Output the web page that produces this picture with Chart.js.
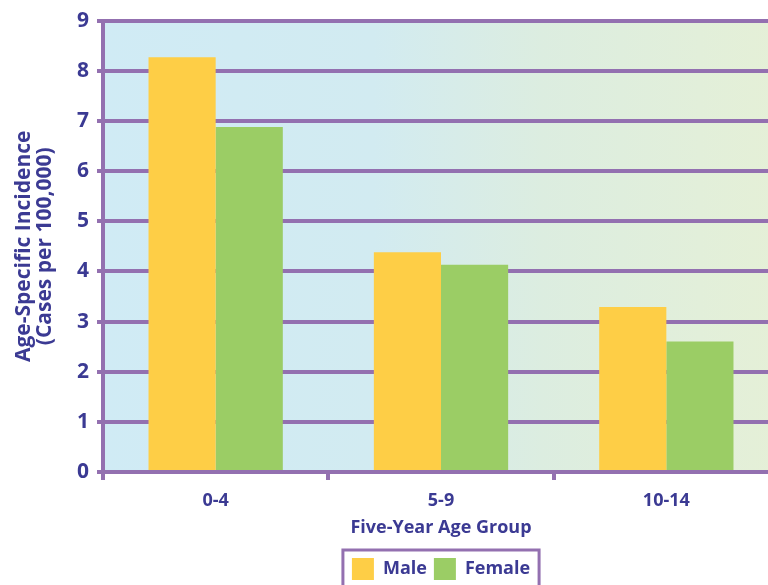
<!DOCTYPE html>
<html lang="en">
<head>
    <meta charset="UTF-8">
    <title>Age-Specific Incidence</title>
    <script src="https://cdn.jsdelivr.net/npm/chart.js"></script>
    <style>
        html, body {
            margin: 0;
            padding: 0;
            background: #fff;
            overflow: hidden;
        }
        .chart-container {
            width: 780px;
            height: 590px;
        }
    </style>
</head>
<body>
    <div class="chart-container">
        <canvas id="grafico"></canvas>
    </div>

    <script>
        const categories = ['0-4', '5-9', '10-14'];
        const maleValues = [8.27, 4.38, 3.29];
        const femaleValues = [6.88, 4.13, 2.60];
        const yTitleLines = ['Age-Specific Incidence', '(Cases per 100,000)'];

        const purple = '#9370B0';
        const textColor = '#3B3A93';
        const fontFamily = "'Open Sans', 'DejaVu Sans', sans-serif";

        // background gradient behind the plot area
        const fondo = {
            id: 'fondo',
            beforeDraw(chart) {
                const { ctx, chartArea: a } = chart;
                const g = ctx.createLinearGradient(a.left, 0, a.right, 0);
                g.addColorStop(0, '#D0EBF5');
                g.addColorStop(0.4, '#D2EBF1');
                g.addColorStop(0.65, '#DCEDE0');
                g.addColorStop(1, '#E5F0D7');
                ctx.save();
                ctx.fillStyle = g;
                ctx.fillRect(a.left, a.top, a.right - a.left, a.bottom - a.top);
                ctx.restore();
            }
        };

        // frame round the legend
        const marcoLeyenda = {
            id: 'marcoLeyenda',
            afterDraw(chart) {
                const boxes = chart.legend.legendHitBoxes;
                if (!boxes || !boxes.length) return;
                const left = Math.min(...boxes.map(b => b.left)) - 9;
                const right = Math.max(...boxes.map(b => b.left + b.width)) + 9;
                const top = Math.min(...boxes.map(b => b.top)) - 8;
                const ctx = chart.ctx;
                ctx.save();
                ctx.strokeStyle = purple;
                ctx.lineWidth = 3;
                ctx.strokeRect(left, top, right - left, 60);
                ctx.restore();
            }
        };

        const ctx = document.getElementById('grafico').getContext('2d');
        const chart = new Chart(ctx, {
            type: 'bar',
            data: {
                labels: categories,
                datasets: [{
                    label: 'Male',
                    data: maleValues,
                    backgroundColor: '#FECE46',
                    borderWidth: 0,
                    barPercentage: 1,
                    categoryPercentage: 0.596
                }, {
                    label: 'Female',
                    data: femaleValues,
                    backgroundColor: '#9BCD65',
                    borderWidth: 0,
                    barPercentage: 1,
                    categoryPercentage: 0.596
                }]
            },
            options: {
                responsive: true,
                maintainAspectRatio: false,
                animation: false,
                layout: {
                    padding: { top: 18, right: 1, left: 0, bottom: 0 }
                },
                plugins: {
                    legend: {
                        position: 'bottom',
                        fullSize: false,
                        labels: {
                            boxWidth: 22,
                            boxHeight: 22,
                            padding: 7,
                            color: textColor,
                            font: { family: fontFamily, size: 18, weight: 'bold' }
                        }
                    },
                    tooltip: { enabled: false }
                },
                scales: {
                    x: {
                        afterFit: s => { s.height = 79; },
                        grid: {
                            drawOnChartArea: false,
                            drawTicks: true,
                            tickLength: 8,
                            color: purple,
                            lineWidth: 4
                        },
                        border: { color: purple, width: 4 },
                        ticks: {
                            color: textColor,
                            padding: 10,
                            font: { family: fontFamily, size: 18, weight: 'bold' }
                        },
                        title: {
                            display: true,
                            text: 'Five-Year Age Group',
                            color: textColor,
                            padding: { top: 4, bottom: 12 },
                            font: { family: fontFamily, size: 18, weight: 'bold' }
                        }
                    },
                    y: {
                        min: 0,
                        max: 9,
                        afterFit: s => { s.width = 103; },
                        grid: {
                            color: purple,
                            lineWidth: 4,
                            tickLength: 6
                        },
                        border: { color: purple, width: 4 },
                        ticks: {
                            stepSize: 1,
                            color: textColor,
                            padding: 8,
                            font: { family: fontFamily, size: 21, weight: 'bold' }
                        },
                        title: {
                            display: true,
                            text: yTitleLines,
                            color: textColor,
                            padding: { top: 14, bottom: 0 },
                            font: { family: fontFamily, size: 21, weight: 'bold', lineHeight: 1.0 }
                        }
                    }
                }
            },
            plugins: [fondo, marcoLeyenda]
        });
    </script>
</body>
</html>
